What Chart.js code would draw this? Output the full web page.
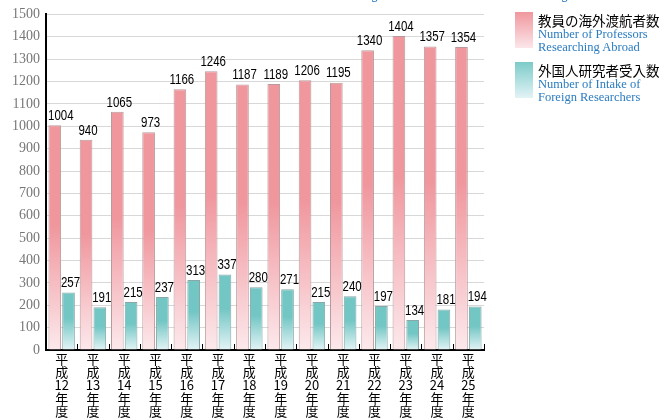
<!DOCTYPE html>
<html>
<head>
<meta charset="utf-8">
<script src="https://cdn.jsdelivr.net/npm/chart.js@4.4.0/dist/chart.umd.min.js"></script>
<style>
  body { margin:0; background:#fff; }
  #wrap { position:relative; width:664px; height:420px; overflow:hidden; }
  #title { position:absolute; left:148px; top:-13px; font:13px "DejaVu Serif", serif; color:#2a7bc0; white-space:nowrap; }
  .lg { position:absolute; left:515px; }
  .sw { position:absolute; left:0; top:0; width:18px; height:36px; }
  .lt { position:absolute; left:23px; top:0; white-space:nowrap; }
  .jp { font:13.5px "Noto Sans CJK JP", sans-serif; color:#000; line-height:16px; }
  .en { font:12.5px "Liberation Serif", serif; color:#2a7bc0; line-height:12.5px; }
</style>
</head>
<body>
<div id="wrap">
  <div id="title">Number of Professors Researching Abroad and Intake of Foreign Researchers</div>
  <canvas id="c" width="664" height="420"></canvas>
  <div class="lg" style="top:12px">
    <div class="sw" style="background:linear-gradient(#f0979e,#fbe6ea)"></div>
    <div class="lt"><div class="jp">教員の海外渡航者数</div><div class="en">Number of Professors<br>Researching Abroad</div></div>
  </div>
  <div class="lg" style="top:62px">
    <div class="sw" style="background:linear-gradient(#7ccbc9,#e3f3f6)"></div>
    <div class="lt"><div class="jp">外国人研究者受入数</div><div class="en">Number of Intake of<br>Foreign Researchers</div></div>
  </div>
</div>
<script>
// fiscal years (Heisei 12 - 25)
const years = ['12','13','14','15','16','17','18','19','20','21','22','23','24','25'];
const professorsAbroad = [1004, 940, 1065, 973, 1166, 1246, 1187, 1189, 1206, 1195, 1340, 1404, 1357, 1354];
const foreignResearchers = [257, 191, 215, 237, 313, 337, 280, 271, 215, 240, 197, 134, 181, 194];
const yTicks = [0,100,200,300,400,500,600,700,800,900,1000,1100,1200,1300,1400,1500];

const labels = years.map(y => ['平','成', y, '年','度']);

// per-bar vertical gradient from the bar top down to zero
function barGradient(top, bottom) {
  return function(ctx) {
    const chart = ctx.chart;
    if (!chart.chartArea || ctx.raw === undefined) return top;
    const y = chart.scales.y;
    const y0 = y.getPixelForValue(ctx.raw), y1 = y.getPixelForValue(0);
    const g = chart.ctx.createLinearGradient(0, y0, 0, y1);
    g.addColorStop(0, top);
    g.addColorStop(0.45, top);
    g.addColorStop(1, bottom);
    return g;
  };
}

const valueLabels = {
  id: 'valueLabels',
  afterDatasetsDraw(chart) {
    const c = chart.ctx, a = chart.chartArea;
    chart.data.datasets.forEach((ds, i) => {
      chart.getDatasetMeta(i).data.forEach((bar, j) => {
        const txt = String(ds.data[j]);
        c.save();
        c.font = '14px "Liberation Sans", sans-serif';
        const half = c.measureText(txt).width * 0.82 / 2;
        const x = Math.max(bar.x + 2, a.left + half + 2);
        c.fillStyle = '#000';
        c.textAlign = 'center';
        c.textBaseline = 'bottom';
        c.translate(x, bar.y - 2);
        c.scale(0.82, 1);
        c.fillText(txt, 0, 0);
        c.restore();
      });
    });
  }
};

// small ticks above the x axis at category boundaries
const innerTicks = {
  id: 'innerTicks',
  afterDraw(chart) {
    const c = chart.ctx, a = chart.chartArea;
    const w = (a.right - a.left) / years.length;
    c.save();
    c.strokeStyle = '#000';
    c.lineWidth = 1;
    for (let i = 1; i <= years.length; i++) {
      const px = Math.round(a.left + w * i) + 0.5;
      c.beginPath(); c.moveTo(px, a.bottom); c.lineTo(px, a.bottom - 6); c.stroke();
    }
    c.restore();
  }
};

new Chart(document.getElementById('c'), {
  type: 'bar',
  data: {
    labels,
    datasets: [
      { data: professorsAbroad, backgroundColor: barGradient('#f0979e', '#fce9ec'), borderColor: '#b99a9c', borderWidth: 1, borderSkipped: 'bottom' },
      { data: foreignResearchers, backgroundColor: barGradient('#72c6c4', '#e4f4f6'), borderColor: '#8aa6a6', borderWidth: 1, borderSkipped: 'bottom' }
    ]
  },
  options: {
    responsive: false,
    animation: false,
    layout: { padding: { top: 14, right: 180, left: 0, bottom: 0 } },
    plugins: { legend: { display: false }, tooltip: { enabled: false } },
    datasets: { bar: { categoryPercentage: 0.88, barPercentage: 0.92 } },
    scales: {
      x: {
        grid: { display: false },
        border: { color: '#000', width: 2 },
        ticks: { color: '#000', font: { family: '"Noto Sans CJK JP", sans-serif', size: 13, lineHeight: 1.0 }, padding: -5, maxRotation: 0, autoSkip: false },
        afterFit(s) { s.height = 70; }
      },
      y: {
        min: 0, max: 1500,
        afterBuildTicks(s) { s.ticks = yTicks.map(v => ({ value: v })); },
        grid: { color: '#d8d8d8', drawTicks: false },
        border: { color: '#000', width: 2 },
        ticks: { color: '#777', font: { family: '"Liberation Serif", serif', size: 14 }, padding: 6, callback: v => String(v) },
        afterFit(s) { s.width = 46; }
      }
    }
  },
  plugins: [valueLabels, innerTicks]
});
</script>
</body>
</html>
